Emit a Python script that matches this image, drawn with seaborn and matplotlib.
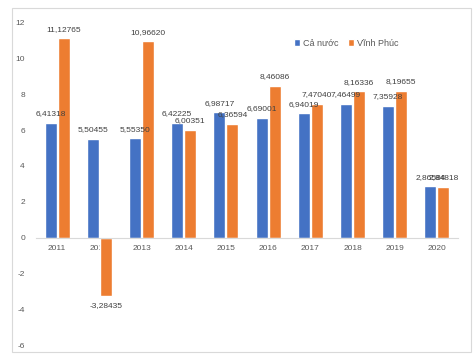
import pandas as pd
import seaborn as sns
import matplotlib.pyplot as plt
from matplotlib.patches import Rectangle

# data
years = ["2011", "2012", "2013", "2014", "2015", "2016", "2017", "2018", "2019", "2020"]
ca_nuoc = [6.41318, 5.50455, 5.55350, 6.42225, 6.98717, 6.69001, 6.94019, 7.46499, 7.35928, 2.86584]
vinh_phuc = [11.12765, -3.28435, 10.96620, 6.00351, 6.36594, 8.46086, 7.47040, 8.16336, 8.19655, 2.84818]
series = ["Cả nước", "Vĩnh Phúc"]
colors = ["#4472C4", "#ED7D31"]

df = pd.DataFrame({
    "year": years * 2,
    "value": ca_nuoc + vinh_phuc,
    "series": [series[0]] * len(years) + [series[1]] * len(years),
})

sns.set_style("white")
plt.rcParams['font.family'] = ['Liberation Sans', 'DejaVu Sans']
plt.rcParams['axes.unicode_minus'] = False

fig = plt.figure(figsize=(4.73, 3.63), dpi=100)
ax = fig.add_axes([36 / 473, 1 - 345 / 363, 422 / 473, 322.3 / 363])

sns.barplot(data=df, x="year", y="value", hue="series", palette=colors,
            width=0.62, gap=0.08, ax=ax, saturation=1)

# data labels, comma decimals
for cont, vals in zip(ax.containers, [ca_nuoc, vinh_phuc]):
    ax.bar_label(cont, labels=[f"{v:.5f}".replace(".", ",") for v in vals],
                 padding=4, fontsize=6, color="#404040")

ax.set_ylim(-6, 12)
ax.set_yticks(range(-6, 13, 2))
ax.set_xlabel("")
ax.set_ylabel("")
for s in ["top", "right", "left"]:
    ax.spines[s].set_visible(False)
ax.spines["bottom"].set_position(("data", 0))
ax.spines["bottom"].set_color("#D9D9D9")
ax.tick_params(axis="both", length=0, labelsize=6, labelcolor="#595959")
ax.tick_params(axis="x", pad=5)
ax.tick_params(axis="y", pad=8)

ax.legend(loc="center", bbox_to_anchor=(0.735, 0.937), ncol=2, frameon=False,
          handlelength=0.7, handleheight=0.7, handletextpad=0.3,
          columnspacing=1.0, fontsize=6.5, labelcolor="#595959")

# chart border like the spreadsheet frame
fig.patches.append(Rectangle((11.5 / 473, 1 - 352 / 363), 459 / 473, 344 / 363,
                             transform=fig.transFigure, fill=False,
                             edgecolor="#D9D9D9", linewidth=0.8))

fig.savefig("out.png", dpi=100)
